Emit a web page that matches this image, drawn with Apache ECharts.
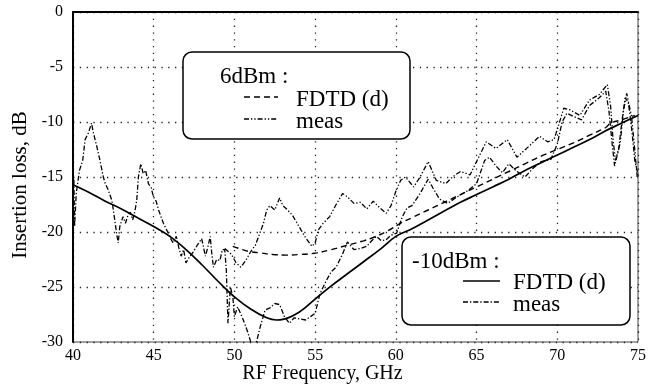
<!DOCTYPE html>
<html>
<head>
<meta charset="utf-8">
<script src="https://cdn.jsdelivr.net/npm/echarts@6/dist/echarts.min.js"></script>
<style>
html,body{margin:0;padding:0;background:#fff;}
#c{width:649px;height:389px;}
</style>
</head>
<body>
<div id="c"></div>
<script>
// ---- data ----
var xTicks = [40, 45, 50, 55, 60, 65, 70, 75];
var yTicks = [-30, -25, -20, -15, -10, -5, 0];

// -10dBm FDTD (d) : solid
var fdtdLowFreq = [40, 41, 42, 43, 44, 45, 46, 47, 48, 49, 50, 51, 52, 52.6, 53, 54, 55, 56, 57, 58, 59, 60, 61, 62, 63, 64, 65, 66, 67, 68, 69, 70, 71, 72, 73, 74, 75];
var fdtdLowDb   = [-15.7, -16.4, -17.2, -17.9, -18.7, -19.5, -20.4, -21.6, -23.0, -24.5, -25.9, -27.0, -27.8, -28.0, -27.95, -27.3, -26.1, -24.9, -23.8, -22.7, -21.6, -20.4, -19.7, -18.9, -18.1, -17.3, -16.6, -15.9, -15.2, -14.4, -13.7, -13.0, -12.3, -11.6, -10.8, -10.1, -9.4];

// 6dBm FDTD (d) : dashed
var fdtdHighFreq = [49.9, 50.5, 51, 51.6, 52.4, 53.2, 54, 55.1, 56, 57, 58, 58.6, 59.5, 60.3, 61, 62, 63, 64, 65, 66, 67, 68, 69, 70, 71, 72, 73, 73.3, 74, 74.8];
var fdtdHighDb   = [-21.3, -21.6, -21.8, -21.9, -22.05, -22.1, -22.05, -21.9, -21.6, -21.2, -20.8, -20.5, -19.9, -19.2, -18.7, -18.0, -17.3, -16.6, -15.9, -15.2, -14.5, -13.8, -13.1, -12.5, -11.9, -11.2, -10.5, -10.1, -9.8, -9.4];

// 6dBm meas
var measHighFreq = [49.4, 49.8, 50.1, 50.4, 50.7, 51.0, 51.3, 51.6, 51.8, 52.0, 52.2, 52.5, 52.8, 53.0, 53.3, 53.6, 54.0, 54.4, 54.8, 55.0, 55.2, 55.5, 55.9, 56.3, 56.7, 57.0, 57.4, 57.8, 58.2, 58.6, 59.0, 59.4, 59.7, 60.0, 60.3, 60.6, 61.1, 61.5, 62.0, 62.5, 63.1, 63.5, 64.0, 64.6, 65.2, 65.6, 66.2, 66.9, 67.5, 68.1, 68.9, 69.4, 69.8, 70.1, 70.4, 70.8, 71.4, 72.0, 72.6, 73.1, 73.3, 73.45, 73.6, 73.9, 74.1, 74.3, 74.6, 74.8, 74.95];
var measHighDb   = [-21.5, -22.0, -22.8, -23.2, -22.6, -21.8, -21.2, -20.0, -19.2, -18.0, -17.6, -18.0, -16.9, -17.6, -18.0, -18.5, -19.5, -20.5, -21.3, -21.0, -19.8, -19.2, -18.6, -17.5, -16.5, -16.8, -17.4, -17.3, -17.9, -17.2, -17.8, -18.3, -17.6, -16.3, -15.3, -15.0, -15.9, -15.0, -13.6, -15.3, -15.6, -15.0, -14.5, -14.8, -13.0, -11.8, -12.4, -11.6, -13.2, -12.4, -11.3, -11.8, -11.6, -10.2, -8.75, -8.9, -9.4, -8.0, -7.5, -6.6, -8.5, -11.5, -13.5, -11.9, -9.0, -7.4, -9.5, -12.5, -15.0];

// -10dBm meas
var measLowFreq = [40.0, 40.05, 40.1, 40.2, 40.4, 40.6, 40.75, 40.95, 41.15, 41.25, 41.47, 41.67, 41.88, 42.0, 42.19, 42.4, 42.5, 42.7, 42.8, 42.9, 43.1, 43.25, 43.4, 43.55, 43.7, 43.85, 43.95, 44.05, 44.2, 44.35, 44.5, 44.67, 44.85, 44.98, 45.15, 45.3, 45.6, 45.9, 46.05, 46.2, 46.4, 46.55, 46.7, 46.85, 47.0, 47.2, 47.45, 47.7, 47.97, 48.1, 48.2, 48.35, 48.5, 48.6, 48.7, 48.9, 49.1, 49.25, 49.4, 49.5, 49.6, 49.75, 49.9, 50.0, 50.2, 50.55, 50.8, 50.97, 51.2, 51.4, 51.6, 51.9, 52.2, 52.5, 52.8, 53.1, 53.4, 53.7, 54.05, 54.4, 54.7, 55.0, 55.3, 55.7, 56.0, 56.3, 56.7, 57.0, 57.4, 57.8, 58.2, 58.5, 58.8, 59.1, 59.4, 59.7, 60.05, 60.4, 60.7, 61.0, 61.5, 62.0, 62.3, 62.7, 63.2, 63.8, 64.5, 65.0, 65.5, 65.8, 66.2, 66.6, 67.0, 67.5, 68.0, 68.5, 69.0, 69.6, 70.0, 70.3, 70.6, 71.0, 71.5, 72.0, 72.6, 73.0, 73.2, 73.4, 73.55, 73.8, 74.0, 74.2, 74.4, 74.6, 74.8, 75.0];
var measLowDb   = [-18.5, -15.0, -19.5, -16.5, -14.4, -13.5, -11.6, -11.0, -10.1, -10.9, -12.2, -13.5, -15.0, -15.6, -16.2, -17.1, -18.0, -20.1, -21.0, -19.5, -18.6, -19.2, -18.5, -18.2, -18.9, -18.0, -17.1, -15.0, -13.8, -14.7, -14.4, -15.6, -16.0, -16.8, -17.2, -18.0, -19.2, -20.1, -20.6, -21.0, -20.4, -21.4, -22.2, -21.6, -22.8, -22.3, -21.8, -21.2, -20.6, -21.5, -22.2, -21.4, -20.4, -22.0, -23.2, -22.5, -22.6, -21.6, -21.6, -23.5, -28.3, -25.0, -25.9, -27.7, -26.8, -28.0, -29.0, -29.8, -31.0, -29.8, -28.6, -27.1, -26.9, -26.5, -26.6, -27.7, -28.3, -27.8, -27.9, -28.0, -27.7, -27.4, -25.6, -24.4, -23.6, -23.2, -22.0, -20.9, -21.6, -21.5, -21.3, -20.8, -20.4, -20.8, -20.7, -20.3, -20.1, -18.6, -17.8, -17.6, -16.5, -15.2, -16.0, -17.0, -17.4, -16.8, -16.2, -15.6, -13.5, -13.2, -14.0, -14.6, -13.8, -14.5, -15.0, -14.2, -13.6, -13.4, -12.0, -10.0, -9.2, -9.5, -9.8, -8.5, -7.8, -7.2, -9.0, -12.0, -14.0, -12.5, -10.0, -7.8, -8.2, -10.5, -13.5, -14.8];

function zip(a, b) { return a.map(function (v, i) { return [v, b[i]]; }); }

var FONT = '"Liberation Serif", "Times New Roman", serif';
var chart = echarts.init(document.getElementById('c'), null, {renderer: 'canvas'});

var option = {
  animation: false,
  backgroundColor: '#fff',
  grid: {left: 73, right: 11, top: 12, bottom: 47, show: true, borderColor: '#444', borderWidth: 1,
         containLabel: false, outerBoundsMode: 'none'},
  xAxis: {
    type: 'value', min: xTicks[0], max: xTicks[xTicks.length - 1], interval: 5,
    name: 'RF Frequency, GHz', nameLocation: 'middle', nameGap: 22, nameMoveOverlap: false,
    nameTextStyle: {fontFamily: FONT, fontSize: 20, color: '#000', padding: [0, 66, 0, 0]},
    axisLine: {show: true, lineStyle: {color: '#000', width: 2}},
    axisTick: {show: false},
    axisLabel: {fontFamily: FONT, fontSize: 16, color: '#000', margin: 6},
    splitLine: {show: true, lineStyle: {color: '#222', width: 1.3, type: [1.3, 5.5]}}
  },
  yAxis: {
    type: 'value', min: yTicks[0], max: yTicks[yTicks.length - 1], interval: 5,
    name: 'Insertion loss, dB', nameLocation: 'middle', nameGap: 42, nameMoveOverlap: false,
    nameTextStyle: {fontFamily: FONT, fontSize: 21, color: '#000', padding: [0, 16, 0, 0]},
    axisLine: {show: true, lineStyle: {color: '#000', width: 2}},
    axisTick: {show: false},
    axisLabel: {fontFamily: FONT, fontSize: 16, color: '#000', margin: 10},
    splitLine: {show: true, lineStyle: {color: '#222', width: 1.3, type: [1.3, 5.5]}}
  },
  series: [
    {name: '-10dBm FDTD (d)', type: 'line', data: zip(fdtdLowFreq, fdtdLowDb), smooth: 0.4, showSymbol: false, clip: true,
     lineStyle: {color: '#000', width: 1.7, type: 'solid'}},
    {name: '6dBm FDTD (d)', type: 'line', data: zip(fdtdHighFreq, fdtdHighDb), smooth: 0.4, showSymbol: false, clip: true,
     lineStyle: {color: '#000', width: 1.4, type: [6, 4]}},
    {name: '6dBm meas', type: 'line', data: zip(measHighFreq, measHighDb), showSymbol: false, clip: true,
     lineStyle: {color: '#000', width: 1.3, type: [5, 2, 1.3, 2, 1.3, 2]}},
    {name: '-10dBm meas', type: 'line', data: zip(measLowFreq, measLowDb), showSymbol: false, clip: true,
     lineStyle: {color: '#000', width: 1.3, type: [5, 2, 1.3, 2]}}
  ],
  graphic: [
    // legend box 1 (6dBm)
    {type: 'rect', z: 100, shape: {x: 183, y: 52, width: 227, height: 87, r: 9},
     style: {fill: '#fff', stroke: '#000', lineWidth: 1.5}},
    {type: 'text', z: 101, style: {x: 220, y: 77, text: '6dBm :', font: '23px ' + FONT, fill: '#000', textVerticalAlign: 'middle'}},
    {type: 'line', z: 101, shape: {x1: 244, y1: 97, x2: 278, y2: 97}, style: {stroke: '#000', lineWidth: 1.4, lineDash: [6, 4]}},
    {type: 'text', z: 101, style: {x: 296, y: 100, text: 'FDTD (d)', font: '23px ' + FONT, fill: '#000', textVerticalAlign: 'middle'}},
    {type: 'line', z: 101, shape: {x1: 244, y1: 119, x2: 278, y2: 119}, style: {stroke: '#000', lineWidth: 1.3, lineDash: [5, 2, 1.3, 2, 1.3, 2]}},
    {type: 'text', z: 101, style: {x: 296, y: 122, text: 'meas', font: '23px ' + FONT, fill: '#000', textVerticalAlign: 'middle'}},
    // legend box 2 (-10dBm)
    {type: 'rect', z: 100, shape: {x: 402, y: 237, width: 228, height: 88, r: 9},
     style: {fill: '#fff', stroke: '#000', lineWidth: 1.5}},
    {type: 'text', z: 101, style: {x: 412, y: 262, text: '-10dBm :', font: '23px ' + FONT, fill: '#000', textVerticalAlign: 'middle'}},
    {type: 'line', z: 101, shape: {x1: 463, y1: 281, x2: 500, y2: 281}, style: {stroke: '#000', lineWidth: 1.7}},
    {type: 'text', z: 101, style: {x: 513, y: 283, text: 'FDTD (d)', font: '23px ' + FONT, fill: '#000', textVerticalAlign: 'middle'}},
    {type: 'line', z: 101, shape: {x1: 463, y1: 302, x2: 500, y2: 302}, style: {stroke: '#000', lineWidth: 1.3, lineDash: [5, 2, 1.3, 2]}},
    {type: 'text', z: 101, style: {x: 513, y: 305, text: 'meas', font: '23px ' + FONT, fill: '#000', textVerticalAlign: 'middle'}}
  ]
};
chart.setOption(option);
</script>
</body>
</html>
